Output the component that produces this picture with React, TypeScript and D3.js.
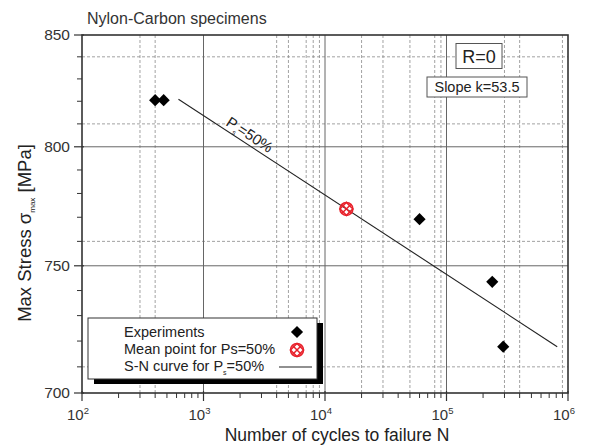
import React from 'react';
import * as d3 from 'd3';

const W = 590
const H = 446
const FONT = '"Liberation Sans", Arial, Helvetica, sans-serif'

// experiments (cycles N, max stress MPa)
const expN = [400, 470, 6.0e4, 2.38e5, 2.93e5]
const expS = [820.5, 820.5, 769.2, 743.5, 717.8]
// mean point for Ps=50%
const meanN = [1.5e4]
const meanS = [773.5]
// S-N curve end points
const curveN = [622, 8.15e5]
const curveS = [820.9, 717.8]

const xMajor = [1e2, 1e3, 1e4, 1e5, 1e6]
const xLabelExp = ['2', '3', '4', '5', '6']
const yMajor = [700, 750, 800, 850]
const yMinor = [710, 720, 730, 740, 760, 770, 780, 790, 810, 820, 830, 840]
const xGridDashed = [300, 400, 4e3, 5e3, 7e3, 8e3, 9e3, 2e4, 3e4, 5e4, 8e4, 9e4, 3e5, 4e5, 9e5]
const yGridDashed = [710, 760, 810, 840]

const legendItems = ['Experiments', 'Mean point for Ps=50%', 'S-N curve for Ps=50%']

const plot = { left: 82, right: 568, top: 35, bottom: 393 }

function MeanMark({ cx, cy }) {
  const r = 6.5
  const k = r * 0.72
  return (
    <g transform={`translate(${cx},${cy})`} stroke="#e8212b" strokeWidth={1.5} fill="none">
      <circle r={r} />
      <path d={`M0,${-r}L${r},0L0,${r}L${-r},0Z`} />
      <line x1={-k} y1={-k} x2={k} y2={k} />
      <line x1={-k} y1={k} x2={k} y2={-k} />
    </g>
  )
}

export default function App() {
  const x = d3.scaleLog().domain([1e2, 1e6]).range([plot.left, plot.right])
  const y = d3.scaleLog().domain([700, 850]).range([plot.bottom, plot.top])

  const xMinor = []
  for (let d = 1e2; d < 1e6; d *= 10) {
    for (let m = 2; m <= 9; m++) xMinor.push(d * m)
  }

  const diamond = d3.symbol().type(d3.symbolSquare).size(74)()
  const line = d3
    .line()
    .x(d => x(d[0]))
    .y(d => y(d[1]))
  const curvePts = curveN.map((n, i) => [n, curveS[i]])

  // label along the S-N line
  const x0 = x(curveN[0]), y0 = y(curveS[0])
  const x1 = x(curveN[1]), y1 = y(curveS[1])
  const ang = (Math.atan2(y1 - y0, x1 - x0) * 180) / Math.PI
  const lx = 225
  const ly = y0 + ((lx - x0) * (y1 - y0)) / (x1 - x0)

  const leg = { x: 88, y: 318, w: 229, h: 61 }

  return (
    <svg width={W} height={H} style={{ position: 'absolute', left: 0, top: 0, background: '#fff' }} fontFamily={FONT}>
      <rect width={W} height={H} fill="#fff" />
      {/* grid */}
      <g>
        {xGridDashed.map(v => (
          <line key={'xd' + v} x1={x(v)} x2={x(v)} y1={plot.top} y2={plot.bottom} stroke="#8a8a8a" strokeWidth={0.8} strokeDasharray="3,2" />
        ))}
        {yGridDashed.map(v => (
          <line key={'yd' + v} x1={plot.left} x2={plot.right} y1={y(v)} y2={y(v)} stroke="#8a8a8a" strokeWidth={0.8} strokeDasharray="3,2" />
        ))}
        {xMajor.slice(1, -1).map(v => (
          <line key={'xg' + v} x1={x(v)} x2={x(v)} y1={plot.top} y2={plot.bottom} stroke="#666" strokeWidth={1} />
        ))}
        {yMajor.slice(1, -1).map(v => (
          <line key={'yg' + v} x1={plot.left} x2={plot.right} y1={y(v)} y2={y(v)} stroke="#666" strokeWidth={1} />
        ))}
      </g>

      {/* frame */}
      <rect x={plot.left} y={plot.top} width={plot.right - plot.left} height={plot.bottom - plot.top} fill="none" stroke="#333" strokeWidth={1.6} />

      {/* x ticks */}
      {xMajor.map(v => (
        <line key={'xt' + v} x1={x(v)} x2={x(v)} y1={plot.bottom - 2} y2={plot.bottom + 8} stroke="#333" strokeWidth={1.2} />
      ))}
      {xMinor.map(v => (
        <line key={'xm' + v} x1={x(v)} x2={x(v)} y1={plot.bottom} y2={plot.bottom + 5} stroke="#333" strokeWidth={1} />
      ))}
      {xMajor.map((v, i) => (
        <text key={'xl' + v} x={x(v) - 4} y={420} textAnchor="middle" fontSize={15} fill="#333">
          10
          <tspan dy={-6} fontSize={9.5}>{xLabelExp[i]}</tspan>
        </text>
      ))}

      {/* y ticks */}
      {yMajor.map(v => (
        <line key={'yt' + v} x1={plot.left - 8} x2={plot.left + 2} y1={y(v)} y2={y(v)} stroke="#333" strokeWidth={1.2} />
      ))}
      {yMinor.map(v => (
        <line key={'ym' + v} x1={plot.left - 5} x2={plot.left} y1={y(v)} y2={y(v)} stroke="#333" strokeWidth={1} />
      ))}
      {yMajor.map(v => (
        <text key={'yl' + v} x={70} y={y(v)} dy="0.35em" textAnchor="end" fontSize={15.5} fill="#333">
          {v}
        </text>
      ))}

      {/* axis titles */}
      <text x={337} y={441} textAnchor="middle" fontSize={17.5} fill="#222">
        Number of cycles to failure N
      </text>
      <text transform="translate(31,233) rotate(-90)" textAnchor="middle" fontSize={18.5} fill="#222">
        Max Stress σ<tspan dy={4} fontSize={8}>max</tspan>
        <tspan dy={-4}> [MPa]</tspan>
      </text>
      <text x={87} y={24} fontSize={16} fill="#333">
        Nylon-Carbon specimens
      </text>

      {/* S-N curve */}
      <path d={line(curvePts)} fill="none" stroke="#222" strokeWidth={1.1} />
      <text transform={`translate(${lx},${ly - 5}) rotate(${ang})`} fontSize={15} fill="#222">
        P<tspan dy={4} fontSize={7}>s</tspan>
        <tspan dy={-4}>=50%</tspan>
      </text>

      {/* experiments */}
      {expN.map((n, i) => (
        <path key={'e' + i} d={diamond} transform={`translate(${x(n)},${y(expS[i])}) rotate(45)`} fill="#000" />
      ))}
      {meanN.map((n, i) => (
        <MeanMark key={'m' + i} cx={x(n)} cy={y(meanS[i])} />
      ))}

      {/* R=0 and slope boxes */}
      <rect x={456} y={43.5} width={46} height={25} fill="#fff" stroke="#555" strokeWidth={1} />
      <text x={479} y={62.5} textAnchor="middle" fontSize={18} fill="#222">
        R=0
      </text>
      <rect x={427} y={77} width={100} height={20} fill="#fff" stroke="#555" strokeWidth={1} />
      <text x={477} y={92} textAnchor="middle" fontSize={14.5} fill="#222">
        Slope k=53.5
      </text>

      {/* legend */}
      <rect x={leg.x + 6} y={leg.y + 5} width={leg.w} height={leg.h} fill="#000" />
      <rect x={leg.x} y={leg.y} width={leg.w} height={leg.h} fill="#fff" stroke="#333" strokeWidth={1} />
      {legendItems.map((t, i) => (
        <text key={'lg' + i} x={124} y={337 + i * 17} fontSize={14.5} fill="#222">
          {i === 2 ? (
            <>
              S-N curve for P<tspan dy={4} fontSize={7}>s</tspan>
              <tspan dy={-4}>=50%</tspan>
            </>
          ) : (
            t
          )}
        </text>
      ))}
      <path d={diamond} transform="translate(297,332) rotate(45)" fill="#000" />
      <MeanMark cx={297} cy={350} />
      <line x1={279} x2={312} y1={367} y2={367} stroke="#222" strokeWidth={1.1} />
    </svg>
  )
}
